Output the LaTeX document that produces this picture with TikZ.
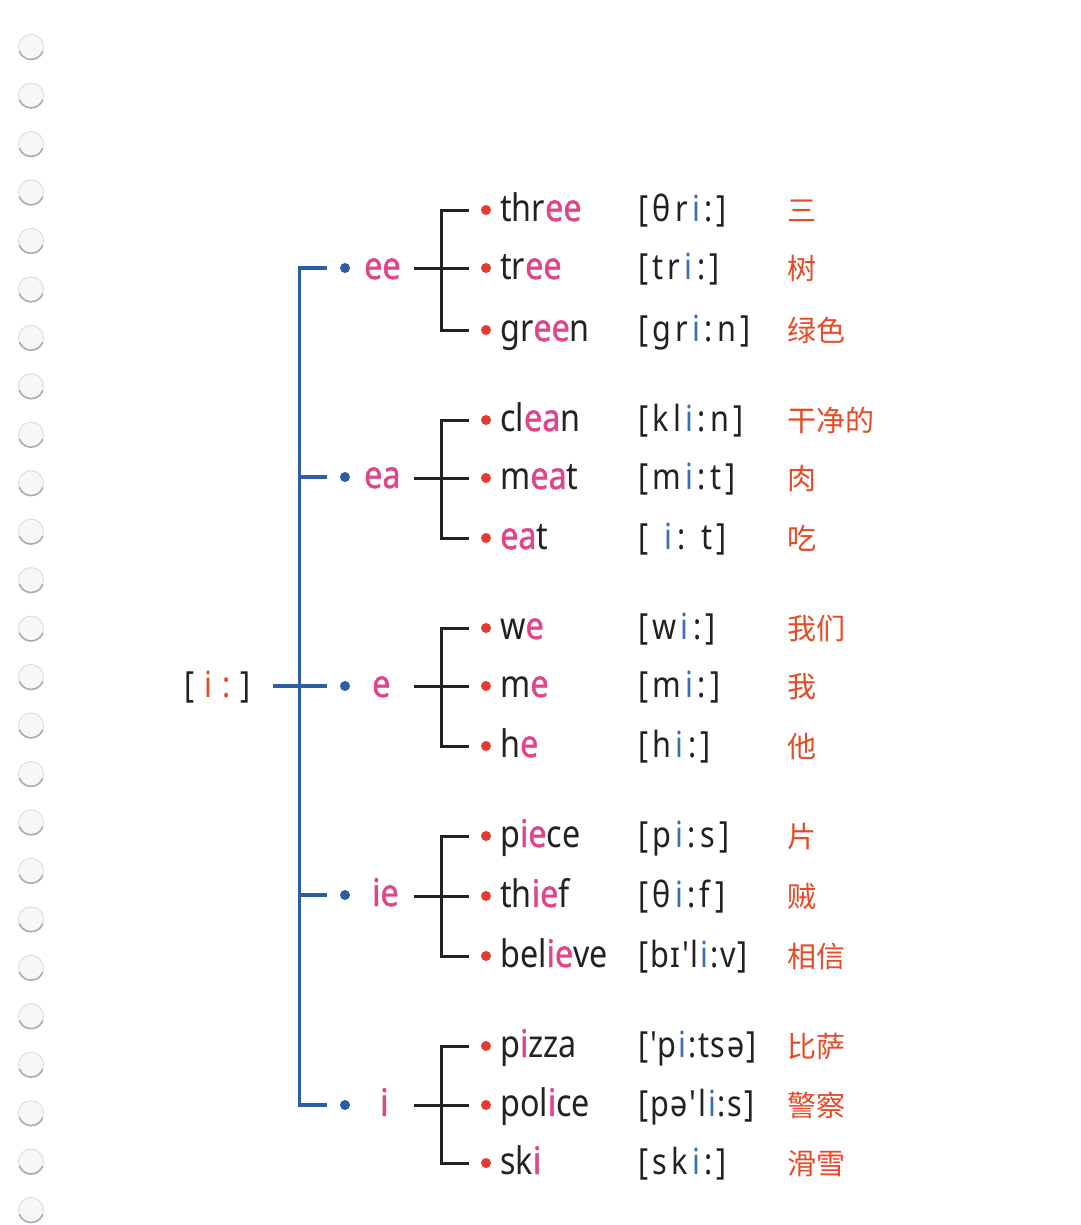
\documentclass[tikz,border=0pt]{standalone}
\usepackage{fontspec}
\setmainfont{Noto Sans}[FakeStretch=0.85]
\newfontfamily\pkf{Noto Sans}[FakeStretch=0.85,FakeBold=1.2]
\newfontfamily\ipaf{Noto Sans}[FakeStretch=0.85,LetterSpace=12]
\newfontfamily\ipan{Noto Sans}[FakeStretch=0.85,LetterSpace=5]
\newfontfamily\rootf{Noto Sans}[FakeStretch=0.85,LetterSpace=28]
\newfontfamily\cjk{Noto Sans CJK SC}
\usetikzlibrary{calc}
\definecolor{ink}{HTML}{222222}
\definecolor{dblue}{HTML}{2B5EA7}
\definecolor{vpink}{HTML}{E0458A}
\definecolor{dred}{HTML}{E53A2E}
\definecolor{zhred}{HTML}{E84A25}
\definecolor{iblue}{HTML}{3A6FB0}
\newlength\ibsp
\newcommand\pk[1]{{\pkf\textcolor{vpink}{#1}}}
\newcommand\ib{\kern\ibsp\textcolor{iblue}{i}\kern\ibsp}
\newcommand\wordrow[6][ipa]{%
  \node[rdot] (rd#2) at (486,#3) {};
  \node[word] (w#2) at (500,{#3+11}) {#4};
  \node[#1] (p#2) at (638,{#3+11}) {#5};
  \node[zh] (c#2) at (787,{#3+11}) {#6};
}
\newcommand\brk[1]{%
  \draw[bk] ($(rd#1b.west)+(-67,0)$) -- ($(rd#1b.west)+(-12,0)$);
  \draw[bk] ($(rd#1a.west)+(-12,0)$) -| ($(rd#1c.west)+(-39,0)$) -- ($(rd#1c.west)+(-12,0)$);
}
\begin{document}
\begin{tikzpicture}[x=1pt,y=-1pt,
  word/.style={anchor=base west, inner sep=0, font=\fontsize{38}{40}\selectfont, text=ink},
  ipa/.style={anchor=base west, inner sep=0, font={\ipaf\fontsize{36}{40}\selectfont\setlength\ibsp{4.3pt}}, text=ink},
  ipan/.style={anchor=base west, inner sep=0, font={\ipan\fontsize{36}{40}\selectfont\setlength\ibsp{1.8pt}}, text=ink},
  zh/.style={anchor=base west, inner sep=0, font=\cjk\fontsize{29}{32}\selectfont, text=zhred},
  vow/.style={anchor=base west, inner sep=0, font=\pkf\fontsize{38}{40}\selectfont, text=vpink},
  bdot/.style={circle, fill=dblue, inner sep=0, minimum size=10},
  rdot/.style={circle, fill=dred, inner sep=0, minimum size=10},
  bl/.style={draw=dblue, line width=3.2},
  bk/.style={draw=ink, line width=3},
  hole/.style={fill=gray!6, draw=gray!30, line width=0.8}]
\fill[white] (0,0) rectangle (1080,1225);
\useasboundingbox (0,0) rectangle (1080,1225);
% binder holes
\foreach \i in {0,...,24}{
  \path[hole] (31,{47+48.46*\i}) circle (12.5);
  \draw[gray!65, line width=1.6] ($(31,{47+48.46*\i})+(160:12.5)$) arc[start angle=160, end angle=20, radius=12.5];
}
% root
\node[anchor=base west, inner sep=0, font=\rootf\fontsize{36}{40}\selectfont, text=ink] (root) at (184,697) {[\kern10pt\textcolor{zhred}{i:}\kern10pt]};
% vowel groups
\node[bdot] (d1) at (345,268) {};
\node[vow] (v1) at (364,279) {ee};
\node[bdot] (d2) at (345,477) {};
\node[vow] (v2) at (364,488) {ea};
\node[bdot] (d3) at (345,686) {};
\node[vow] (v3) at (372,697) {e};
\node[bdot] (d4) at (345,895) {};
\node[vow] (v4) at (372,906) {ie};
\node[bdot] (d5) at (345,1105) {};
\node[vow] (v5) at (380,1116) {i};
% blue tree
\draw[bl] ($(d1.west)+(-13,0)$) -| ($(d5.west)+(-40,0)$) -- ($(d5.west)+(-13,0)$);
\draw[bl] ($(d3.west)+(-67,0)$) -- ($(d3.west)+(-13,0)$);
\draw[bl] ($(d2.west)+(-40,0)$) -- ($(d2.west)+(-13,0)$);
\draw[bl] ($(d4.west)+(-40,0)$) -- ($(d4.west)+(-13,0)$);
% words
\wordrow{1a}{210}{thr\pk{ee}}{[θr\ib:]}{三}
\wordrow{1b}{268}{tr\pk{ee}}{[tr\ib:]}{树}
\wordrow{1c}{330}{gr\pk{ee}n}{[gr\ib:n]}{绿色}
\wordrow{2a}{420}{cl\pk{ea}n}{[kl\ib:n]}{干净的}
\wordrow{2b}{478}{m\pk{ea}t}{[m\ib:t]}{肉}
\wordrow{2c}{538}{\pk{ea}t}{[ \ib: t]}{吃}
\wordrow{3a}{628}{w\pk{e}}{[w\ib:]}{我们}
\wordrow{3b}{686}{m\pk{e}}{[m\ib:]}{我}
\wordrow{3c}{746}{h\pk{e}}{[h\ib:]}{他}
\wordrow{4a}{836}{p\pk{ie}ce}{[p\ib:s]}{片}
\wordrow{4b}{896}{th\pk{ie}f}{[θ\ib:f]}{贼}
\wordrow[ipan]{4c}{956}{bel\pk{ie}ve}{[bɪ'l\ib:v]}{相信}
\wordrow[ipan]{5a}{1046}{p\pk{i}zza}{['p\ib:tsə]}{比萨}
\wordrow[ipan]{5b}{1105}{pol\pk{i}ce}{[pə'l\ib:s]}{警察}
\wordrow{5c}{1163}{sk\pk{i}}{[sk\ib:]}{滑雪}
% black brackets
\brk{1}
\brk{2}
\brk{3}
\brk{4}
\brk{5}
\end{tikzpicture}
\end{document}
